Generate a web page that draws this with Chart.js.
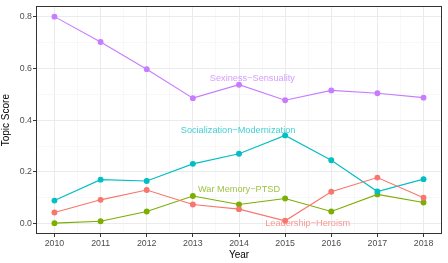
<!DOCTYPE html>
<html>
<head>
<meta charset="utf-8">
<script src="https://cdn.jsdelivr.net/npm/chart.js@4"></script>
<style>
  html, body { margin: 0; padding: 0; background: #fff; }
  #wrap { width: 448px; height: 263px; }
</style>
</head>
<body>
<div id="wrap"><canvas id="topicChart" width="448" height="263"></canvas></div>
<script>
// Topic scores by year
const years = [2010, 2011, 2012, 2013, 2014, 2015, 2016, 2017, 2018];
const yTicks = [0.0, 0.2, 0.4, 0.6, 0.8];

const leadership    = [0.043, 0.092, 0.130, 0.074, 0.056, 0.011, 0.123, 0.178, 0.100];
const sexiness      = [0.800, 0.702, 0.597, 0.485, 0.537, 0.477, 0.515, 0.504, 0.487];
const socialization = [0.089, 0.170, 0.165, 0.231, 0.270, 0.341, 0.245, 0.124, 0.172];
const warMemory     = [0.002, 0.009, 0.047, 0.107, 0.074, 0.097, 0.047, 0.113, 0.082];

const topicNames = ['Leadership−Heroism', 'Sexiness−Sensuality', 'Socialization−Modernization', 'War Memory−PTSD'];
const topicColors = ['#F8766D', '#C77CFF', '#00BFC4', '#7CAE00'];
const topicLabelAt = [[2015.49, 0.001], [2014.29, 0.562], [2013.98, 0.362], [2014.0, 0.131]];

const series = [leadership, sexiness, socialization, warMemory];

const font = '"Liberation Sans", Arial, sans-serif';

// text labels placed in data coordinates next to each line
const lineLabels = {
  id: 'lineLabels',
  afterDatasetsDraw(chart) {
    const { ctx, scales } = chart;
    ctx.save();
    ctx.font = '9.2px ' + font;
    ctx.textAlign = 'center';
    ctx.textBaseline = 'middle';
    topicNames.forEach((name, i) => {
      ctx.globalAlpha = 0.75;
      ctx.fillStyle = topicColors[i];
      ctx.fillText(name, scales.x.getPixelForValue(topicLabelAt[i][0]), scales.y.getPixelForValue(topicLabelAt[i][1]));
    });
    ctx.restore();
  }
};

// panel border like theme_bw
const panelBorder = {
  id: 'panelBorder',
  afterDraw(chart) {
    const a = chart.chartArea, ctx = chart.ctx;
    ctx.save();
    ctx.strokeStyle = '#333333';
    ctx.lineWidth = 1;
    ctx.strokeRect(Math.round(a.left) + 0.5, Math.round(a.top) + 0.5, Math.round(a.right - a.left) - 1, Math.round(a.bottom - a.top) - 1);
    ctx.restore();
  }
};

const isMajor = (v, step) => Math.abs(v / step - Math.round(v / step)) < 1e-6;
const isYMajor = (v) => yTicks.some(t => Math.abs(t - v) < 1e-6);

new Chart(document.getElementById('topicChart'), {
  type: 'line',
  data: {
    datasets: series.map((vals, i) => ({
      label: topicNames[i],
      data: years.map((y, j) => ({ x: y, y: vals[j] })),
      borderColor: topicColors[i],
      backgroundColor: topicColors[i],
      borderWidth: 1.1,
      pointRadius: 2.4,
      pointHoverRadius: 2.4,
      tension: 0
    }))
  },
  options: {
    responsive: false,
    animation: false,
    layout: { padding: { left: 0, top: 4, right: 6, bottom: 0 } },
    plugins: { legend: { display: false }, tooltip: { enabled: false } },
    scales: {
      x: {
        type: 'linear',
        min: 2009.6,
        max: 2018.4,
        afterBuildTicks: (s) => {
          const t = [];
          for (let v = 2009.5; v <= 2018.5; v += 0.5) if (v >= 2009.6 && v <= 2018.4) t.push({ value: v });
          s.ticks = t;
        },
        afterFit: (s) => { s.height = 29; },
        grid: {
          color: (c) => isMajor(c.tick.value, 1) ? '#EBEBEB' : '#F4F4F4',
          lineWidth: (c) => isMajor(c.tick.value, 1) ? 1 : 0.6,
          tickLength: 3,
          tickColor: (c) => isMajor(c.tick.value, 1) ? '#333333' : 'rgba(0,0,0,0)'
        },
        border: { display: false },
        ticks: {
          autoSkip: false,
          maxRotation: 0,
          padding: 1,
          color: '#4D4D4D',
          font: { family: font, size: 8.8 },
          callback: (v) => isMajor(v, 1) ? String(Math.round(v)) : ''
        },
        title: {
          display: true, text: 'Year', color: '#000',
          font: { family: font, size: 10 }, padding: { top: 0, bottom: 2 }
        }
      },
      y: {
        min: -0.04,
        max: 0.84,
        afterBuildTicks: (s) => {
          const t = [];
          for (let k = 0; k <= 8; k++) t.push({ value: k / 10 });
          s.ticks = t;
        },
        afterFit: (s) => { s.width = 36; },
        grid: {
          color: (c) => isYMajor(c.tick.value) ? '#EBEBEB' : '#F4F4F4',
          lineWidth: (c) => isYMajor(c.tick.value) ? 1 : 0.6,
          tickLength: 3,
          tickColor: (c) => isYMajor(c.tick.value) ? '#333333' : 'rgba(0,0,0,0)'
        },
        border: { display: false },
        ticks: {
          autoSkip: false,
          padding: 1,
          color: '#4D4D4D',
          font: { family: font, size: 8.8 },
          callback: (v) => isYMajor(v) ? v.toFixed(1) : ''
        },
        title: {
          display: true, text: 'Topic Score', color: '#000',
          font: { family: font, size: 10 }, padding: { top: 0, bottom: 2 }
        }
      }
    }
  },
  plugins: [lineLabels, panelBorder]
});
</script>
</body>
</html>
